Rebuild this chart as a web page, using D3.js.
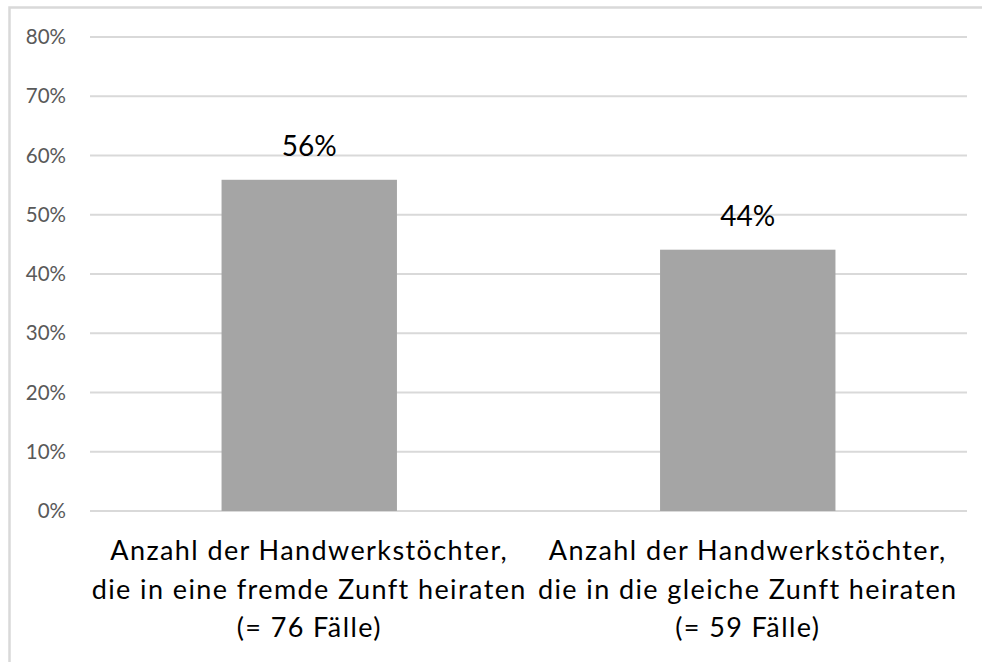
<!DOCTYPE html>
<html>
<head>
<meta charset="utf-8">
<script src="https://cdn.jsdelivr.net/npm/d3@7"></script>
<style>
  html, body { margin: 0; padding: 0; background: #fff; }
  svg { display: block; }
</style>
</head>
<body>
<svg id="chart" width="982" height="662"></svg>
<script>
const categories = [
  ["Anzahl der Handwerkstöchter,", "die in eine fremde Zunft heiraten", "(= 76 Fälle)"],
  ["Anzahl der Handwerkstöchter,", "die in die gleiche Zunft heiraten", "(= 59 Fälle)"]
];
const values = [0.559, 0.441];
const valueLabels = ["56%", "44%"];
const yTicks = [0, 0.1, 0.2, 0.3, 0.4, 0.5, 0.6, 0.7, 0.8];

const svg = d3.select("#chart");
const font = "Lato, 'Open Sans', sans-serif";

svg.append("rect").attr("x", 0).attr("y", 0).attr("width", 982).attr("height", 662).attr("fill", "#fff");
// outer chart border (extends past right/bottom edges)
svg.append("rect")
  .attr("x", 9.5).attr("y", 7.5).attr("width", 1000).attr("height", 700)
  .attr("fill", "none").attr("stroke", "#D9D9D9").attr("stroke-width", 2.5);

const x = d3.scaleBand().domain(d3.range(categories.length)).range([90, 967])
  .paddingInner(0.6).paddingOuter(0.3);
const y = d3.scaleLinear().domain([0, 0.8]).range([511, 37]);

// gridlines
svg.append("g").selectAll("line").data(yTicks).join("line")
  .attr("x1", 90).attr("x2", 967)
  .attr("y1", d => y(d)).attr("y2", d => y(d))
  .attr("stroke", "#D9D9D9").attr("stroke-width", 2);

// y axis labels
const yAxis = d3.axisLeft(y).tickValues(yTicks).tickFormat(d3.format(".0%")).tickSize(0).tickPadding(0);
const gy = svg.append("g").attr("transform", "translate(66,0)").call(yAxis);
gy.select(".domain").remove();
gy.selectAll("text").attr("font-family", font).attr("font-size", 20.5).attr("fill", "#595959");

// bars
svg.append("g").selectAll("rect").data(values).join("rect")
  .attr("x", (d, i) => x(i)).attr("width", x.bandwidth())
  .attr("y", d => y(d)).attr("height", d => y(0) - y(d))
  .attr("fill", "#A5A5A5");

// value labels
svg.append("g").selectAll("text").data(values).join("text")
  .attr("x", (d, i) => x(i) + x.bandwidth() / 2)
  .attr("y", d => y(d) - 24)
  .attr("text-anchor", "middle")
  .attr("font-family", font).attr("font-size", 28).attr("fill", "#000")
  .text((d, i) => valueLabels[i]);

// category labels
const cat = svg.append("g").selectAll("text").data(categories).join("text")
  .attr("text-anchor", "middle")
  .attr("font-family", font).attr("font-size", 27)
  .attr("letter-spacing", 1.4).attr("fill", "#000");
const baselines = [560, 599, 637];
cat.each(function(lines, i) {
  d3.select(this).selectAll("tspan").data(lines).join("tspan")
    .attr("x", x(i) + x.bandwidth() / 2)
    .attr("y", (d, j) => baselines[j])
    .text(d => d);
});
</script>
</body>
</html>
